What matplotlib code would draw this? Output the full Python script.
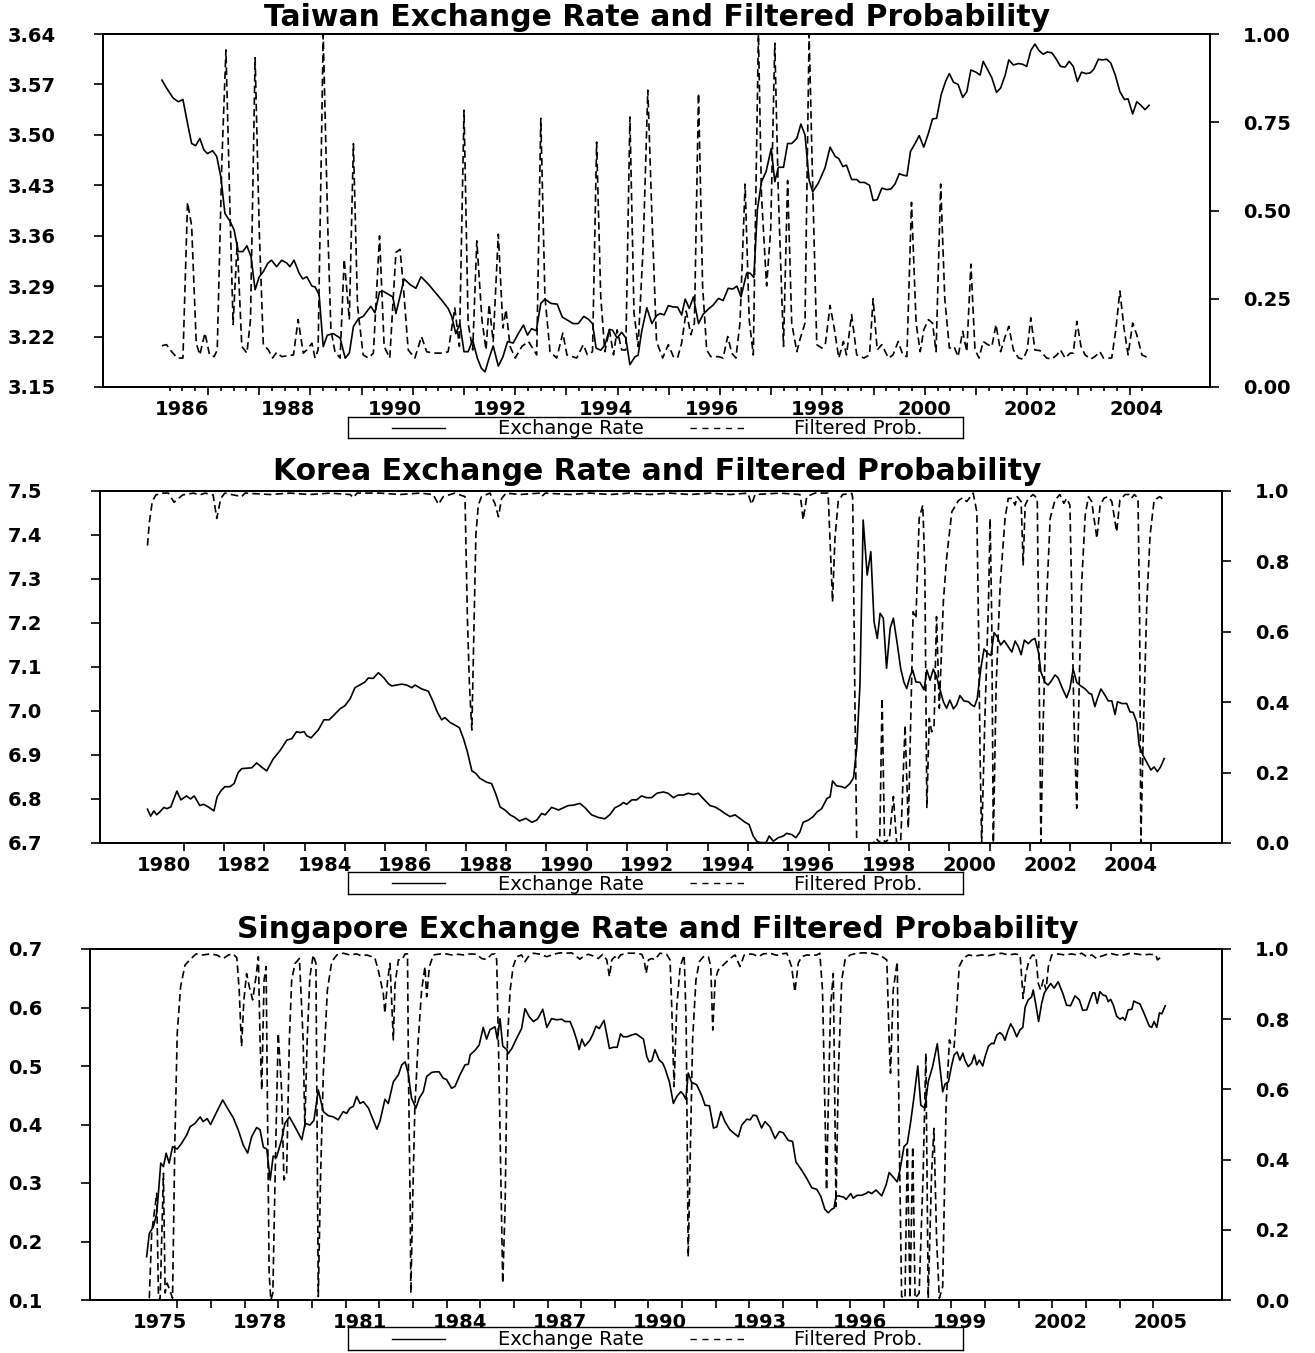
import math
import matplotlib
matplotlib.use("Agg")
import matplotlib.pyplot as plt

plt.rcParams['font.family'] = ['DejaVu Sans']
plt.rcParams['axes.linewidth'] = 1.3

# ======================= DATA =======================
# ---- Taiwan ----
tw_rate_t = [1986.10,1986.19,1986.32,1986.42,1986.51,1986.60,1986.68,1986.76,1986.84,1986.92,1986.99,
 1987.09,1987.17,1987.25,1987.33,1987.43,1987.51,1987.59,1987.68,1987.76,1987.84,1987.92,
 1988.00,1988.08,1988.17,1988.24,1988.34,1988.44,1988.54,1988.60,1988.68,1988.78,1988.85,1988.93,
 1989.03,1989.09,1989.17,1989.25,1989.33,1989.45,1989.58,1989.68,1989.76,1989.84,1989.94,
 1990.03,1990.18,1990.26,1990.35,1990.42,1990.49,1990.61,1990.67,1990.83,1990.95,
 1991.06,1991.16,1991.30,1991.43,1991.56,1991.69,1991.76,1991.84,1991.92,
 1992.00,1992.08,1992.17,1992.26,1992.34,1992.41,1992.49,1992.57,1992.67,1992.76,1992.85,1992.96,
 1993.06,1993.16,1993.24,1993.32,1993.41,1993.50,1993.58,1993.70,1993.82,1993.92,
 1994.04,1994.13,1994.23,1994.34,1994.43,1994.51,1994.58,1994.67,1994.75,1994.84,1994.90,1994.99,
 1995.08,1995.16,1995.24,1995.34,1995.40,1995.47,1995.57,1995.67,1995.76,1995.83,1995.91,1995.99,
 1996.09,1996.17,1996.25,1996.32,1996.40,1996.48,1996.58,1996.67,1996.77,1996.87,1996.97,
 1997.06,1997.16,1997.25,1997.33,1997.41,1997.52,1997.59,1997.66,1997.73,1997.81,1997.90,
 1998.00,1998.07,1998.14,1998.24,1998.32,1998.40,1998.50,1998.58,1998.66,1998.74,1998.81,1998.92,
 1999.05,1999.15,1999.25,1999.32,1999.40,1999.47,1999.57,1999.67,1999.73,1999.82,1999.92,1999.99,
 2000.07,2000.16,2000.26,2000.34,2000.42,2000.50,2000.58,2000.65,2000.72,2000.81,2000.89,2000.98,
 2001.07,2001.15,2001.23,2001.32,2001.41,2001.48,2001.56,2001.65,2001.74,2001.82,2001.90,
 2002.00,2002.08,2002.14,2002.23,2002.31,2002.40,2002.48,2002.57,2002.64,2002.73,2002.83,2002.91,2002.99,
 2003.07,2003.15,2003.23,2003.31,2003.39,2003.48,2003.56,2003.65,2003.74,2003.82,2003.90,2003.98,
 2004.06,2004.15,2004.23,2004.30,2004.39,2004.47,2004.55,2004.63,2004.72,2004.81,2004.90,2004.97,
 2005.06,2005.14,2005.22,2005.30,2005.38]
tw_rate = [3.576,3.565,3.551,3.546,3.549,3.516,3.488,3.485,3.495,3.479,3.474,
 3.478,3.470,3.442,3.391,3.380,3.368,3.338,3.338,3.346,3.331,3.285,
 3.303,3.310,3.322,3.326,3.317,3.326,3.322,3.317,3.326,3.308,3.300,3.303,
 3.290,3.289,3.278,3.206,3.222,3.224,3.218,3.190,3.197,3.234,3.245,
 3.248,3.262,3.253,3.282,3.283,3.280,3.275,3.252,3.300,3.292,
 3.287,3.303,3.293,3.282,3.271,3.259,3.248,3.224,3.238,
 3.199,3.199,3.215,3.190,3.176,3.171,3.190,3.207,3.179,3.192,3.213,3.211,
 3.224,3.236,3.222,3.231,3.228,3.266,3.272,3.266,3.265,3.247,
 3.242,3.238,3.238,3.248,3.244,3.238,3.204,3.201,3.208,3.230,3.229,3.218,
 3.226,3.218,3.181,3.192,3.194,3.227,3.260,3.238,3.249,3.252,3.250,3.263,
 3.261,3.261,3.250,3.272,3.259,3.275,3.238,3.251,3.258,3.264,3.273,
 3.270,3.287,3.286,3.290,3.275,3.308,3.308,3.302,3.396,3.435,3.449,
 3.481,3.435,3.455,3.455,3.488,3.488,3.495,3.515,3.500,3.437,3.421,3.433,
 3.454,3.483,3.470,3.467,3.456,3.458,3.438,3.438,3.434,3.434,3.430,3.409,
 3.410,3.426,3.424,3.425,3.432,3.446,3.444,3.443,3.477,3.488,3.499,3.483,
 3.502,3.522,3.523,3.556,3.575,3.585,3.573,3.570,3.552,3.560,3.590,
 3.587,3.583,3.602,3.590,3.579,3.559,3.565,3.583,3.604,3.597,3.599,3.598,3.595,
 3.617,3.626,3.617,3.612,3.615,3.614,3.606,3.595,3.594,3.602,3.595,3.574,
 3.587,3.585,3.586,3.591,3.605,3.604,3.605,3.600,3.583,3.560,3.549,3.550,
 3.529,3.546,3.541,3.535,3.541]
tw_prob_t = [1986.10,1986.19,1986.29,1986.40,1986.51,1986.60,1986.68,1986.77,1986.84,1986.94,
 1987.03,1987.12,1987.18,1987.27,1987.35,1987.43,1987.49,1987.57,1987.66,1987.76,1987.83,1987.92,
 1988.00,1988.08,1988.18,1988.26,1988.34,1988.44,1988.67,1988.76,1988.86,1988.93,
 1989.03,1989.09,1989.15,1989.25,1989.34,1989.40,1989.48,1989.58,1989.66,1989.76,1989.84,1989.92,
 1990.03,1990.13,1990.23,1990.35,1990.44,1990.55,1990.67,1990.75,1990.81,1990.91,
 1991.04,1991.17,1991.27,1991.40,1991.60,1991.69,1991.82,1991.91,
 1992.00,1992.08,1992.17,1992.25,1992.35,1992.43,1992.49,1992.57,1992.67,1992.76,1992.82,1992.90,
 1993.00,1993.13,1993.26,1993.42,1993.50,1993.58,1993.68,1993.81,1993.93,
 1994.01,1994.20,1994.33,1994.41,1994.51,1994.59,1994.67,1994.75,1994.84,1994.92,1994.99,
 1995.08,1995.16,1995.24,1995.32,1995.40,1995.50,1995.59,1995.67,1995.76,1995.88,1995.99,
 1996.09,1996.17,1996.25,1996.34,1996.43,1996.50,1996.58,1996.66,1996.74,1996.82,1996.97,
 1997.06,1997.15,1997.23,1997.31,1997.39,1997.49,1997.57,1997.65,1997.75,1997.81,1997.91,1997.99,
 1998.07,1998.14,1998.24,1998.32,1998.40,1998.50,1998.56,1998.66,1998.74,1998.81,1998.89,1998.99,
 1999.06,1999.15,1999.23,1999.32,1999.41,1999.47,1999.57,1999.67,1999.81,1999.92,1999.99,
 2000.07,2000.16,2000.29,2000.38,2000.48,2000.57,2000.65,2000.74,2000.83,2000.91,2000.98,
 2001.07,2001.15,2001.22,2001.31,2001.39,2001.48,2001.57,2001.65,2001.74,2001.82,2001.90,2001.98,
 2002.06,2002.14,2002.23,2002.31,2002.39,2002.48,2002.57,2002.64,2002.73,2002.83,2002.92,
 2003.00,2003.07,2003.15,2003.25,2003.38,2003.48,2003.58,2003.65,2003.74,2003.84,2003.90,2003.97,
 2004.05,2004.13,2004.24,2004.32,2004.42,2004.49,2004.65,2004.73,2004.81,2004.89,2004.97,
 2005.06,2005.14,2005.24,2005.37]
tw_prob = [0.117,0.12,0.10,0.082,0.082,0.523,0.457,0.124,0.091,0.153,
 0.091,0.086,0.105,0.637,0.955,0.495,0.177,0.409,0.115,0.096,0.191,0.933,
 0.447,0.12,0.105,0.082,0.098,0.086,0.091,0.191,0.096,0.105,
 0.124,0.082,0.105,0.998,0.447,0.162,0.10,0.082,0.362,0.191,0.689,0.229,
 0.091,0.082,0.096,0.428,0.115,0.082,0.381,0.39,0.295,0.105,
 0.082,0.143,0.10,0.096,0.096,0.10,0.224,0.115,
 0.784,0.181,0.105,0.414,0.191,0.105,0.234,0.129,0.433,0.167,0.219,0.115,
 0.082,0.115,0.129,0.091,0.761,0.257,0.10,0.082,0.153,
 0.091,0.082,0.12,0.091,0.10,0.694,0.257,0.10,0.162,0.091,0.162,
 0.105,0.105,0.765,0.21,0.115,0.40,0.841,0.485,0.129,0.082,0.12,
 0.086,0.082,0.124,0.215,0.148,0.181,0.832,0.286,0.105,0.086,0.086,
 0.082,0.143,0.096,0.082,0.181,0.575,0.191,0.091,1.0,0.542,0.286,0.447,
 0.974,0.542,0.115,0.585,0.181,0.10,0.134,0.181,1.0,0.571,0.12,0.11,
 0.124,0.231,0.167,0.082,0.129,0.091,0.205,0.091,0.082,0.091,0.25,
 0.105,0.12,0.082,0.091,0.129,0.091,0.086,0.523,0.181,0.10,0.162,
 0.191,0.181,0.10,0.575,0.25,0.11,0.115,0.086,0.158,0.10,0.348,0.105,
 0.082,0.129,0.12,0.115,0.177,0.10,0.143,0.172,0.105,0.082,0.079,
 0.105,0.196,0.105,0.103,0.082,0.079,0.091,0.105,0.082,0.096,0.096,0.186,
 0.115,0.091,0.079,0.086,0.10,0.082,0.082,0.162,0.272,0.167,0.091,
 0.181,0.148,0.091,0.082]

# ---- Korea ----
kr_rate_t = [1980.10,1980.18,1980.26,1980.33,1980.41,1980.51,1980.58,1980.68,1980.83,1980.93,
 1981.07,1981.17,1981.26,1981.40,1981.49,1981.61,1981.75,1981.83,1981.92,
 1982.02,1982.15,1982.25,1982.35,1982.44,1982.69,1982.81,1982.94,
 1983.06,1983.22,1983.39,1983.56,1983.68,1983.80,1983.89,1983.99,
 1984.05,1984.16,1984.34,1984.48,1984.61,1984.71,1984.88,
 1985.00,1985.13,1985.25,1985.37,1985.50,1985.58,1985.70,1985.83,1985.97,
 1986.08,1986.16,1986.29,1986.41,1986.53,1986.66,1986.74,1986.91,
 1987.07,1987.19,1987.29,1987.40,1987.48,1987.61,1987.73,1987.84,1987.94,
 1988.04,1988.15,1988.25,1988.35,1988.52,1988.64,1988.75,1988.85,1988.97,
 1989.10,1989.22,1989.33,1989.49,1989.64,1989.76,1989.88,1989.97,
 1990.13,1990.30,1990.42,1990.54,1990.67,1990.83,1990.96,
 1991.12,1991.29,1991.45,1991.58,1991.70,1991.83,1991.91,1991.99,
 1992.12,1992.24,1992.36,1992.49,1992.61,1992.74,1992.90,
 1993.02,1993.15,1993.27,1993.40,1993.52,1993.65,1993.77,1993.89,
 1994.06,1994.18,1994.31,1994.43,1994.56,1994.68,1994.80,1994.93,
 1995.03,1995.13,1995.22,1995.30,1995.45,1995.53,1995.63,1995.75,1995.88,1995.96,
 1996.09,1996.19,1996.29,1996.37,1996.50,1996.62,1996.72,1996.83,1996.96,
 1997.04,1997.10,1997.20,1997.33,1997.41,1997.53,1997.62,1997.70,1997.78,1997.86,1997.96,
 1998.05,1998.13,1998.21,1998.28,1998.36,1998.44,1998.53,1998.61,1998.71,1998.79,1998.87,1998.94,
 1999.02,1999.09,1999.17,1999.27,1999.37,1999.44,1999.52,1999.60,1999.68,1999.78,1999.85,1999.93,
 2000.01,2000.10,2000.18,2000.26,2000.36,2000.47,2000.55,2000.62,2000.69,2000.78,2000.86,2000.95,
 2001.03,2001.11,2001.19,2001.27,2001.36,2001.46,2001.55,2001.63,2001.71,2001.78,2001.86,2001.96,
 2002.04,2002.12,2002.21,2002.27,2002.37,2002.45,2002.54,2002.62,2002.70,2002.81,2002.91,2002.99,
 2003.07,2003.16,2003.26,2003.37,2003.47,2003.53,2003.61,2003.67,2003.76,2003.86,2003.94,
 2004.03,2004.11,2004.17,2004.28,2004.40,2004.48,2004.56,2004.65,2004.71,2004.81,2004.90,
 2005.00,2005.08,2005.16,2005.24,2005.33]
kr_rate = [6.777,6.761,6.773,6.764,6.771,6.781,6.778,6.782,6.818,6.798,
 6.807,6.800,6.807,6.785,6.788,6.782,6.773,6.805,6.818,
 6.828,6.828,6.835,6.860,6.869,6.871,6.882,6.872,
 6.864,6.891,6.910,6.934,6.937,6.953,6.951,6.953,
 6.944,6.939,6.957,6.980,6.980,6.989,7.005,
 7.012,7.028,7.053,7.059,7.066,7.075,7.074,7.087,7.075,
 7.062,7.057,7.059,7.061,7.059,7.053,7.059,7.050,
 7.045,7.021,6.998,6.980,6.985,6.974,6.968,6.962,6.938,
 6.907,6.864,6.858,6.847,6.838,6.835,6.810,6.782,6.775,
 6.764,6.758,6.750,6.756,6.747,6.752,6.767,6.764,
 6.781,6.775,6.780,6.785,6.786,6.790,6.780,
 6.764,6.758,6.755,6.765,6.780,6.786,6.792,6.788,
 6.798,6.798,6.807,6.803,6.803,6.813,6.816,
 6.813,6.803,6.809,6.809,6.813,6.810,6.813,6.801,
 6.785,6.782,6.775,6.767,6.760,6.764,6.756,6.747,
 6.742,6.716,6.704,6.701,6.701,6.716,6.704,6.712,6.716,6.722,
 6.719,6.712,6.725,6.747,6.752,6.760,6.771,6.778,6.801,
 6.805,6.841,6.830,6.828,6.825,6.835,6.848,6.915,7.059,7.434,7.309,
 7.362,7.203,7.165,7.222,7.211,7.097,7.188,7.211,7.150,7.097,7.066,7.051,
 7.078,7.093,7.066,7.065,7.048,7.093,7.070,7.095,7.078,7.045,7.021,7.006,
 7.025,7.005,7.014,7.035,7.023,7.021,7.014,7.010,7.028,7.097,7.141,7.131,
 7.126,7.178,7.168,7.150,7.160,7.146,7.134,7.159,7.146,7.128,7.161,7.153,
 7.161,7.165,7.134,7.089,7.065,7.059,7.070,7.082,7.075,7.050,7.030,7.051,
 7.095,7.065,7.057,7.050,7.040,7.038,7.010,7.028,7.050,7.036,7.023,
 7.023,6.992,7.021,7.017,7.017,6.998,6.997,6.974,6.921,6.898,6.883,
 6.866,6.873,6.862,6.873,6.892]
kr_prob_t = [1980.10,1980.15,1980.22,1980.31,1980.49,1980.62,1980.76,1980.87,1980.98,
 1981.24,1981.40,1981.53,1981.73,1981.82,1981.92,1982.02,1982.44,1982.52,
 1983.14,1983.64,1984.13,1984.63,1985.13,1985.21,1985.30,1985.87,1986.37,1986.86,
 1987.19,1987.32,1987.44,1987.73,1987.98,1988.04,1988.09,1988.15,1988.19,1988.25,1988.31,1988.39,
 1988.60,1988.72,1988.81,1988.89,1989.00,1989.35,1989.84,1989.89,1989.97,
 1990.59,1991.08,1991.58,1992.07,1992.57,1993.06,1993.56,1994.06,1994.56,1995.00,1995.09,1995.18,
 1995.80,1996.29,1996.33,1996.37,1996.46,1996.66,1996.99,1997.05,1997.10,1997.16,1997.24,1997.35,
 1997.58,1997.60,1997.66,1997.70,1998.11,1998.19,1998.27,1998.33,1998.39,1998.51,1998.61,1998.69,
 1998.79,1998.90,1998.98,1999.04,1999.10,1999.17,1999.25,1999.34,1999.39,1999.44,1999.50,1999.56,
 1999.62,1999.68,1999.75,1999.85,1999.93,2000.06,2000.22,2000.33,2000.43,2000.59,2000.68,2000.72,
 2000.76,2000.80,2000.88,2000.97,2001.01,2001.05,2001.09,2001.16,2001.26,2001.38,2001.46,2001.55,
 2001.63,2001.68,2001.78,2001.83,2001.88,2001.96,2002.08,2002.18,2002.23,2002.27,2002.33,2002.41,
 2002.50,2002.62,2002.74,2002.84,2002.91,2002.99,2003.03,2003.09,2003.16,2003.22,2003.28,2003.37,
 2003.45,2003.53,2003.66,2003.74,2003.84,2003.94,2004.03,2004.15,2004.23,2004.36,2004.46,2004.52,
 2004.59,2004.68,2004.72,2004.75,2004.82,2004.90,2004.98,2005.08,2005.22,2005.33]
kr_prob = [0.845,0.913,0.97,0.989,0.994,0.994,0.968,0.979,0.989,
 0.994,0.989,0.994,0.989,0.922,0.979,0.994,0.984,0.994,
 0.99,0.994,0.99,0.994,0.99,0.981,0.994,0.994,0.99,0.994,
 0.99,0.962,0.984,0.994,0.984,0.638,0.449,0.321,0.543,0.875,0.96,0.984,
 0.994,0.965,0.927,0.979,0.994,0.99,0.994,0.985,0.994,
 0.99,0.994,0.99,0.994,0.99,0.994,0.99,0.994,0.99,0.994,0.962,0.99,
 0.994,0.99,0.96,0.918,0.984,0.994,0.994,0.828,0.685,0.865,0.97,0.99,
 0.993,0.98,0.354,0.0,0.0,0.013,0.0,0.411,0.0,0.013,0.132,0.0,
 0.0,0.335,0.042,0.354,0.657,0.638,0.922,0.96,0.78,0.099,0.354,0.316,
 0.335,0.643,0.383,0.686,0.809,0.941,0.972,0.981,0.97,0.994,0.941,0.638,
 0.259,0.0,0.354,0.686,0.922,0.638,0.0,0.449,0.733,0.922,0.979,0.979,
 0.96,0.984,0.97,0.79,0.96,0.979,0.99,0.979,0.449,0.0,0.354,0.686,
 0.922,0.974,0.99,0.965,0.979,0.96,0.733,0.354,0.099,0.449,0.733,0.932,
 0.984,0.97,0.865,0.96,0.98,0.984,0.97,0.884,0.974,0.99,0.99,0.98,
 0.99,0.979,0.638,0.0,0.354,0.686,0.875,0.974,0.984,0.974]

# ---- Singapore ----
sg_rate_t = [1975.09,1975.17,1975.29,1975.39,1975.44,1975.51,1975.59,1975.67,1975.76,1975.86,
 1976.00,1976.13,1976.28,1976.38,1976.53,1976.68,1976.77,1976.89,1976.99,
 1977.15,1977.35,1977.49,1977.66,1977.81,1977.96,
 1978.09,1978.21,1978.36,1978.46,1978.56,1978.66,1978.76,1978.85,1978.95,
 1979.10,1979.20,1979.33,1979.47,1979.60,1979.70,1979.80,1979.94,
 1980.06,1980.19,1980.34,1980.49,1980.64,1980.78,1980.93,
 1981.03,1981.13,1981.23,1981.33,1981.43,1981.53,1981.68,1981.82,1981.93,
 1982.02,1982.17,1982.27,1982.42,1982.57,1982.67,1982.77,1982.86,1982.96,
 1983.09,1983.19,1983.31,1983.41,1983.56,1983.66,1983.78,1983.90,
 1984.00,1984.15,1984.25,1984.40,1984.55,1984.65,1984.70,1984.85,1984.97,
 1985.09,1985.19,1985.29,1985.44,1985.51,1985.59,1985.67,1985.79,1985.83,1985.94,
 1986.08,1986.23,1986.33,1986.46,1986.58,1986.71,1986.86,1986.98,
 1987.12,1987.27,1987.42,1987.52,1987.67,1987.77,1987.87,1987.94,
 1988.02,1988.11,1988.26,1988.36,1988.44,1988.54,1988.68,1988.84,1988.95,
 1989.07,1989.17,1989.25,1989.37,1989.50,1989.63,1989.75,1989.85,1989.95,
 1990.02,1990.10,1990.19,1990.32,1990.42,1990.49,1990.62,1990.74,1990.84,1990.96,
 1991.03,1991.11,1991.18,1991.28,1991.43,1991.58,1991.68,1991.81,1991.93,
 1992.03,1992.15,1992.27,1992.42,1992.54,1992.67,1992.77,1992.92,
 1993.02,1993.11,1993.21,1993.36,1993.46,1993.61,1993.76,1993.89,
 1994.00,1994.15,1994.28,1994.38,1994.55,1994.70,1994.85,
 1995.00,1995.12,1995.24,1995.34,1995.44,1995.51,1995.57,1995.64,1995.79,1995.87,1995.94,
 1996.01,1996.08,1996.20,1996.33,1996.46,1996.53,1996.63,1996.76,1996.93,
 1997.06,1997.15,1997.27,1997.39,1997.47,1997.59,1997.69,1997.79,1997.89,
 1998.00,1998.09,1998.21,1998.31,1998.44,1998.58,1998.74,1998.81,1998.91,
 1999.01,1999.08,1999.17,1999.25,1999.34,1999.40,1999.50,1999.60,1999.68,1999.75,1999.83,1999.93,
 2000.00,2000.10,2000.20,2000.26,2000.35,2000.44,2000.52,2000.59,2000.67,2000.76,2000.84,2000.94,
 2001.04,2001.12,2001.19,2001.28,2001.38,2001.43,2001.51,2001.59,2001.68,2001.76,2001.85,2001.95,
 2002.05,2002.17,2002.31,2002.42,2002.54,2002.67,2002.80,2002.90,
 2003.02,2003.12,2003.20,2003.26,2003.33,2003.41,2003.51,2003.59,2003.66,2003.73,2003.81,2003.91,
 2004.01,2004.09,2004.16,2004.25,2004.36,2004.42,2004.52,2004.60,2004.70,2004.80,2004.88,2004.95,
 2005.02,2005.10,2005.18,2005.25,2005.35]
sg_rate = [0.174,0.214,0.225,0.248,0.282,0.334,0.328,0.351,0.334,0.362,
 0.358,0.368,0.382,0.396,0.402,0.413,0.405,0.410,0.400,
 0.419,0.442,0.428,0.412,0.391,0.365,
 0.351,0.379,0.395,0.391,0.361,0.358,0.305,0.346,0.344,
 0.374,0.402,0.413,0.399,0.385,0.374,0.402,0.399,
 0.407,0.459,0.422,0.415,0.413,0.408,0.422,
 0.419,0.428,0.431,0.448,0.436,0.439,0.428,0.408,0.392,
 0.405,0.443,0.436,0.473,0.485,0.502,0.507,0.488,0.445,
 0.428,0.445,0.456,0.482,0.489,0.490,0.490,0.479,
 0.477,0.462,0.465,0.485,0.502,0.503,0.519,0.527,0.536,
 0.566,0.546,0.562,0.567,0.546,0.581,0.534,0.528,0.521,0.530,
 0.547,0.564,0.598,0.584,0.576,0.581,0.597,0.566,
 0.581,0.579,0.580,0.576,0.576,0.562,0.544,0.528,
 0.546,0.534,0.544,0.556,0.568,0.564,0.578,0.530,0.532,
 0.532,0.555,0.550,0.550,0.553,0.555,0.550,0.546,0.516,
 0.507,0.509,0.528,0.510,0.505,0.496,0.473,0.436,0.448,0.456,
 0.452,0.443,0.488,0.472,0.468,0.450,0.433,0.432,0.394,
 0.396,0.422,0.405,0.391,0.385,0.379,0.399,0.409,
 0.408,0.416,0.415,0.394,0.405,0.396,0.376,0.388,
 0.386,0.373,0.371,0.336,0.322,0.308,0.292,
 0.289,0.277,0.255,0.249,0.255,0.257,0.277,0.278,0.276,0.272,0.277,
 0.282,0.274,0.279,0.279,0.282,0.285,0.282,0.288,0.278,
 0.297,0.318,0.310,0.302,0.322,0.362,0.368,0.405,0.448,
 0.500,0.433,0.428,0.473,0.499,0.538,0.456,0.469,0.473,
 0.502,0.519,0.524,0.510,0.522,0.510,0.499,0.505,0.519,0.502,0.510,0.500,
 0.516,0.534,0.539,0.538,0.553,0.557,0.553,0.544,0.559,0.572,0.564,0.550,
 0.562,0.566,0.601,0.613,0.618,0.630,0.604,0.576,0.607,0.625,0.633,0.641,
 0.633,0.644,0.624,0.604,0.603,0.620,0.613,0.595,
 0.596,0.613,0.625,0.625,0.607,0.627,0.621,0.620,0.610,0.614,0.604,0.585,
 0.580,0.583,0.578,0.596,0.597,0.611,0.608,0.606,0.593,0.579,0.568,0.566,
 0.576,0.566,0.591,0.589,0.603]
sg_prob_t = [1975.17,1975.24,1975.39,1975.44,1975.49,1975.59,1975.64,1975.70,1975.78,1975.86,1975.93,
 1976.00,1976.10,1976.23,1976.38,1976.56,1976.77,1976.97,1977.17,1977.37,1977.52,1977.66,1977.77,
 1977.84,1977.91,1977.98,1978.06,1978.14,1978.24,1978.34,1978.41,1978.46,1978.51,1978.58,1978.64,
 1978.67,1978.73,1978.78,1978.84,1978.87,1978.93,1979.00,1979.10,1979.17,1979.25,1979.33,1979.40,
 1979.50,1979.63,1979.74,1979.79,1979.86,1979.94,1980.04,1980.12,1980.19,1980.26,1980.34,1980.46,
 1980.59,1980.74,1980.93,1981.13,1981.33,1981.48,1981.63,1981.78,1981.87,1981.97,1982.12,1982.17,
 1982.25,1982.32,1982.42,1982.47,1982.57,1982.67,1982.77,1982.84,1982.87,1982.92,1982.94,1982.99,
 1983.06,1983.16,1983.26,1983.36,1983.41,1983.49,1983.61,1983.81,1984.00,1984.15,1984.35,1984.50,
 1984.70,1984.90,1985.04,1985.19,1985.34,1985.44,1985.49,1985.54,1985.61,1985.67,1985.74,1985.81,
 1985.89,1985.98,1986.08,1986.23,1986.33,1986.43,1986.58,1986.78,1986.98,1987.17,1987.37,1987.57,
 1987.72,1987.87,1987.96,1988.08,1988.21,1988.36,1988.51,1988.64,1988.76,1988.84,1988.91,1989.00,
 1989.07,1989.17,1989.35,1989.60,1989.80,1989.87,1989.93,1990.00,1990.10,1990.19,1990.34,1990.54,
 1990.64,1990.69,1990.76,1990.84,1990.94,1991.06,1991.12,1991.18,1991.23,1991.31,1991.41,1991.51,
 1991.63,1991.78,1991.85,1991.91,1991.98,1992.07,1992.22,1992.42,1992.57,1992.72,1992.84,1992.96,
 1993.11,1993.26,1993.41,1993.61,1993.81,1993.96,1994.11,1994.25,1994.35,1994.45,1994.55,1994.70,
 1994.88,1995.00,1995.09,1995.17,1995.24,1995.29,1995.34,1995.41,1995.49,1995.57,1995.64,1995.74,
 1995.84,1995.99,1996.19,1996.38,1996.63,1996.87,1996.99,1997.08,1997.15,1997.19,1997.27,1997.39,
 1997.45,1997.52,1997.62,1997.69,1997.77,1997.85,1997.92,1998.04,1998.16,1998.24,1998.31,1998.41,
 1998.48,1998.56,1998.64,1998.74,1998.84,1998.94,1998.98,1999.08,1999.16,1999.23,1999.35,1999.50,
 1999.70,1999.90,2000.09,2000.30,2000.49,2000.69,2000.89,2001.04,2001.13,2001.21,2001.31,2001.41,
 2001.51,2001.58,2001.65,2001.73,2001.81,2001.88,2001.98,2002.17,2002.37,2002.57,2002.72,2002.87,
 2003.02,2003.17,2003.31,2003.41,2003.56,2003.71,2003.91,2004.11,2004.31,2004.49,2004.70,2004.89,
 2005.07,2005.12,2005.20]
sg_prob = [0.005,0.19,0.304,0.02,0.0,0.361,0.02,0.048,0.028,0.005,0.456,
 0.76,0.893,0.954,0.97,0.986,0.983,0.986,0.983,0.973,0.983,0.986,0.975,
 0.883,0.722,0.855,0.93,0.893,0.855,0.921,0.978,0.741,0.598,0.912,0.95,
 0.646,0.076,0.0,0.019,0.171,0.456,0.76,0.598,0.342,0.361,0.741,0.912,
 0.959,0.973,0.741,0.494,0.741,0.921,0.983,0.959,0.01,0.361,0.646,0.883,
 0.964,0.983,0.988,0.983,0.986,0.98,0.983,0.978,0.975,0.94,0.874,0.817,
 0.912,0.959,0.741,0.9,0.969,0.969,0.986,0.986,0.646,0.266,0.019,0.266,
 0.551,0.741,0.883,0.95,0.864,0.95,0.983,0.986,0.986,0.983,0.985,0.983,
 0.986,0.985,0.973,0.97,0.985,0.986,0.969,0.741,0.361,0.048,0.266,0.741,
 0.883,0.95,0.978,0.983,0.964,0.978,0.988,0.985,0.978,0.985,0.989,0.988,
 0.989,0.978,0.971,0.98,0.985,0.98,0.973,0.985,0.969,0.921,0.969,0.978,
 0.969,0.983,0.988,0.988,0.985,0.969,0.93,0.969,0.973,0.969,0.988,0.985,
 0.969,0.836,0.608,0.836,0.95,0.983,0.788,0.123,0.361,0.741,0.912,0.964,
 0.978,0.978,0.95,0.769,0.912,0.94,0.954,0.973,0.983,0.95,0.982,0.986,
 0.985,0.978,0.986,0.988,0.982,0.986,0.988,0.95,0.878,0.96,0.978,0.983,
 0.982,0.983,0.988,0.883,0.551,0.313,0.551,0.836,0.93,0.266,0.646,0.912,
 0.969,0.983,0.988,0.989,0.988,0.983,0.975,0.969,0.741,0.646,0.883,0.964,
 0.456,0.01,0.005,0.437,0.005,0.437,0.005,0.019,0.361,0.703,0.005,0.361,
 0.489,0.171,0.005,0.038,0.551,0.741,0.731,0.72,0.836,0.95,0.973,0.983,
 0.98,0.983,0.981,0.985,0.988,0.983,0.986,0.983,0.859,0.93,0.969,0.983,
 0.98,0.902,0.883,0.912,0.883,0.95,0.983,0.986,0.983,0.986,0.983,0.988,
 0.978,0.983,0.973,0.978,0.983,0.988,0.983,0.983,0.988,0.986,0.983,0.985,
 0.983,0.969,0.975]

# ---- axes scales and labels ----
tw_rate_ticks = [3.15, 3.22, 3.29, 3.36, 3.43, 3.50, 3.57, 3.64]
tw_prob_ticks = [0.00, 0.25, 0.50, 0.75, 1.00]
kr_rate_ticks = [6.7, 6.8, 6.9, 7.0, 7.1, 7.2, 7.3, 7.4, 7.5]
kr_prob_ticks = [0.0, 0.2, 0.4, 0.6, 0.8, 1.0]
sg_rate_ticks = [0.1, 0.2, 0.3, 0.4, 0.5, 0.6, 0.7]
sg_prob_ticks = [0.0, 0.2, 0.4, 0.6, 0.8, 1.0]
tw_year_labels = list(range(1986, 2005, 2))
kr_year_labels = list(range(1980, 2005, 2))
sg_year_labels = list(range(1975, 2006, 3))
titles = ["Taiwan Exchange Rate and Filtered Probability",
          "Korea Exchange Rate and Filtered Probability",
          "Singapore Exchange Rate and Filtered Probability"]
legend_labels = ["Exchange Rate", "Filtered Prob."]

# ======================= LAYOUT =======================
W, H = 1315, 1353
fig = plt.figure(figsize=(W / 100, H / 100), dpi=100)
PT = 72 / 100.0  # points per pixel


def rect_px(l, t, r, b):
    return [l / W, 1 - b / H, (r - l) / W, (b - t) / H]


def panel(box, xlim, rate_t, rate, prob_t, prob, rticks, rfmt, pticks, pfmt,
          label_years, label_step, quarters, title, title_y, leg_box):
    l, t, r, b = box
    ax = fig.add_axes(rect_px(l, t, r, b))
    ax.plot(rate_t, rate, color='black', lw=1.2)
    ax.set_xlim(*xlim)
    ax.set_ylim(rticks[0], rticks[-1])
    ax.set_yticks(rticks)
    ax.set_yticklabels([rfmt.format(v) for v in rticks])
    tl = 9
    ax.tick_params(axis='y', direction='out', length=tl * PT, width=1.2,
                   pad=(l - 8 - tl) * PT, labelsize=14)
    for lab in ax.get_yticklabels():
        lab.set_ha('left')
        lab.set_fontweight('bold')

    ax2 = ax.twinx()
    ax2.plot(prob_t, prob, color='black', lw=1.2, dashes=(4.5, 2.5))
    ax2.set_ylim(0, 1)
    ax2.set_yticks(pticks)
    ax2.set_yticklabels([pfmt.format(v) for v in pticks])
    ax2.tick_params(axis='y', direction='out', length=tl * PT, width=1.2,
                    pad=24 * PT, labelsize=14)
    for lab in ax2.get_yticklabels():
        lab.set_fontweight('bold')
    ax2.set_xlim(*xlim)

    t0, t1 = min(rate_t), max(rate_t)
    years = [y for y in range(math.ceil(t0), math.floor(t1) + 1)]
    first = label_years[0]
    ax.set_xticks([first + 0.5 + i * label_step for i in range(len(label_years))])
    ax.set_xticklabels([str(y) for y in label_years])
    ax.tick_params(axis='x', which='major', length=0, pad=13 * PT, labelsize=14)
    for lab in ax.get_xticklabels():
        lab.set_fontweight('bold')
    ax.set_xticks(years, minor=True)
    ax.tick_params(axis='x', which='minor', direction='out', length=8 * PT, width=1.2)
    if quarters:
        qs = [k / 4 for k in range(math.ceil(t0 * 4), math.floor(t1 * 4) + 1) if k % 4]
        sec = ax.secondary_xaxis('bottom')
        sec.set_xticks(qs)
        sec.set_xticklabels([])
        sec.tick_params(axis='x', direction='out', length=4 * PT, width=1.2)
        sec.spines['bottom'].set_visible(False)

    fig.text(0.5, 1 - title_y / H, title, ha='center', va='center',
             fontsize=21.5, fontweight='bold')

    # legend box drawn as its own small axes
    ll, lt, lr, lb = leg_box
    lax = fig.add_axes(rect_px(ll, lt, lr, lb))
    lax.set_xlim(0, 1)
    lax.set_ylim(0, 1)
    lax.set_xticks([])
    lax.set_yticks([])
    for s in lax.spines.values():
        s.set_linewidth(1.0)
    lax.plot([0.0715, 0.1577], [0.5, 0.5], color='black', lw=1.0)
    lax.plot([0.556, 0.6455], [0.5, 0.5], color='black', lw=1.0, dashes=(4.5, 4))
    lax.text(0.3626, 0.45, legend_labels[0], ha='center', va='center', fontsize=14)
    lax.text(0.829, 0.45, legend_labels[1], ha='center', va='center', fontsize=14)
    return ax


panel((103, 34, 1210, 387), (1984.949, 2006.570), tw_rate_t, tw_rate, tw_prob_t, tw_prob,
      tw_rate_ticks, "{:.2f}", tw_prob_ticks, "{:.2f}", tw_year_labels, 2.0703, True,
      titles[0], 17, (348, 417, 963, 438))
panel((100, 491, 1222, 843), (1978.923, 2006.764), kr_rate_t, kr_rate, kr_prob_t, kr_prob,
      kr_rate_ticks, "{:.1f}", kr_prob_ticks, "{:.1f}", kr_year_labels, 2.0, False,
      titles[1], 472, (348, 872, 963, 894))
panel((90, 949, 1222, 1300), (1973.408, 2007.038), sg_rate_t, sg_rate, sg_prob_t, sg_prob,
      sg_rate_ticks, "{:.1f}", sg_prob_ticks, "{:.1f}", sg_year_labels, 2.97, False,
      titles[2], 929, (348, 1327, 963, 1350))

fig.savefig("out.png", dpi=100)
